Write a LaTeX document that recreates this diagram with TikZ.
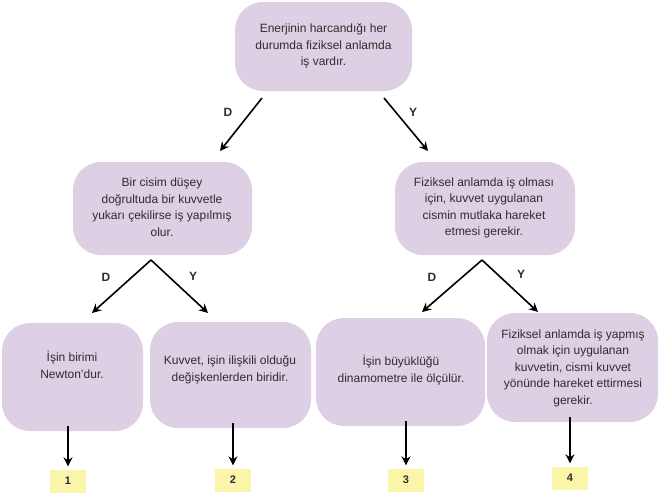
\documentclass[tikz,border=0pt]{standalone}
\usepackage{fontspec}
\setmainfont{Liberation Sans}
\usetikzlibrary{arrows.meta}
\definecolor{boxfill}{RGB}{221,208,229}
\definecolor{numfill}{RGB}{250,245,168}
\definecolor{txt}{RGB}{45,45,45}
\begin{document}
\begin{tikzpicture}[x=1pt,y=-1pt,
  box/.style={draw=none,fill=boxfill,rounded corners=28pt,inner sep=0pt},
  txtnode/.style={align=center,text=txt,font=\fontsize{12}{16.5}\selectfont,inner sep=0pt},
  numbox/.style={fill=numfill,minimum width=36pt,minimum height=23pt,inner sep=0pt,font=\bfseries\fontsize{11}{12}\selectfont,text=txt},
  arr/.style={line width=1.6pt,-{Stealth[length=9pt,width=9pt,inset=3pt]}},
  lbl/.style={font=\bfseries\fontsize{12}{13}\selectfont,text=txt}]
\useasboundingbox (0,0) rectangle (663,493);

% boxes
\node[box,minimum width=177pt,minimum height=89pt] (top) at (323.5,46.5) {};
\node[box,minimum width=179pt,minimum height=93pt] (ml) at (162.5,208.5) {};
\node[box,minimum width=180pt,minimum height=93pt] (mr) at (485,208.5) {};
\node[box,minimum width=141pt,minimum height=108pt] (b1) at (72.5,377) {};
\node[box,minimum width=161pt,minimum height=106pt] (b2) at (230.5,375) {};
\node[box,minimum width=169pt,minimum height=108pt] (b3) at (400.5,372) {};
\node[box,minimum width=171pt,minimum height=109pt] (b4) at (572.5,367.5) {};

% texts
\node[txtnode] (ttop) at (323.5,46) {Enerjinin harcandığı her\\durumda fiziksel anlamda\\iş vardır.};
\node[txtnode] (tml) at (162,207) {Bir cisim düşey\\doğrultuda bir kuvvetle\\yukarı çekilirse iş yapılmış\\olur.};
\node[txtnode] (tmr) at (484,208) {Fiziksel anlamda iş olması\\için, kuvvet uygulanan\\cismin mutlaka hareket\\etmesi gerekir.};
\node[txtnode] (tb1) at (72,365) {İşin birimi\\Newton’dur.};
\node[txtnode] (tb2) at (230,370) {Kuvvet, işin ilişkili olduğu\\değişkenlerden biridir.};
\node[txtnode] (tb3) at (401,370) {İşin büyüklüğü\\dinamometre ile ölçülür.};
\node[txtnode] (tb4) at (573,368) {Fiziksel anlamda iş yapmış\\olmak için uygulanan\\kuvvetin, cismi kuvvet\\yönünde hareket ettirmesi\\gerekir.};

% number boxes
\node[numbox] (n1) at (68,481) {1};
\node[numbox] (n2) at (233,480) {2};
\node[numbox] (n3) at (406,480) {3};
\node[numbox] (n4) at (570,478) {4};

% arrow coordinates
\coordinate (tD) at (262,98);
\coordinate (tY) at (384,98);
\coordinate (tDe) at (220,151);
\coordinate (tYe) at (428,151);
\coordinate (aL) at (151,260);
\coordinate (aR) at (482,260);
\coordinate (lDe) at (92,313);
\coordinate (lYe) at (208,313);
\coordinate (rDe) at (422,312);
\coordinate (rYe) at (538,312);

\draw[arr] (tD) -- (tDe);
\draw[arr] (tY) -- (tYe);
\draw[arr] (aL) -- (lDe);
\draw[arr] (aL) -- (lYe);
\draw[arr] (aR) -- (rDe);
\draw[arr] (aR) -- (rYe);

\foreach \i in {1,2,3,4}{
  \draw[arr,shorten >=3pt] (n\i.north |- b\i.south) ++(0,-5) -- (n\i.north);
}

% labels
\node[lbl] (lD1) at (228,112) {D};
\node[lbl] (lY1) at (413,112) {Y};
\node[lbl] (lD2) at (106,277) {D};
\node[lbl] (lY2) at (193,276) {Y};
\node[lbl] (lD3) at (432,277) {D};
\node[lbl] (lY3) at (521,274) {Y};
\end{tikzpicture}
\end{document}
